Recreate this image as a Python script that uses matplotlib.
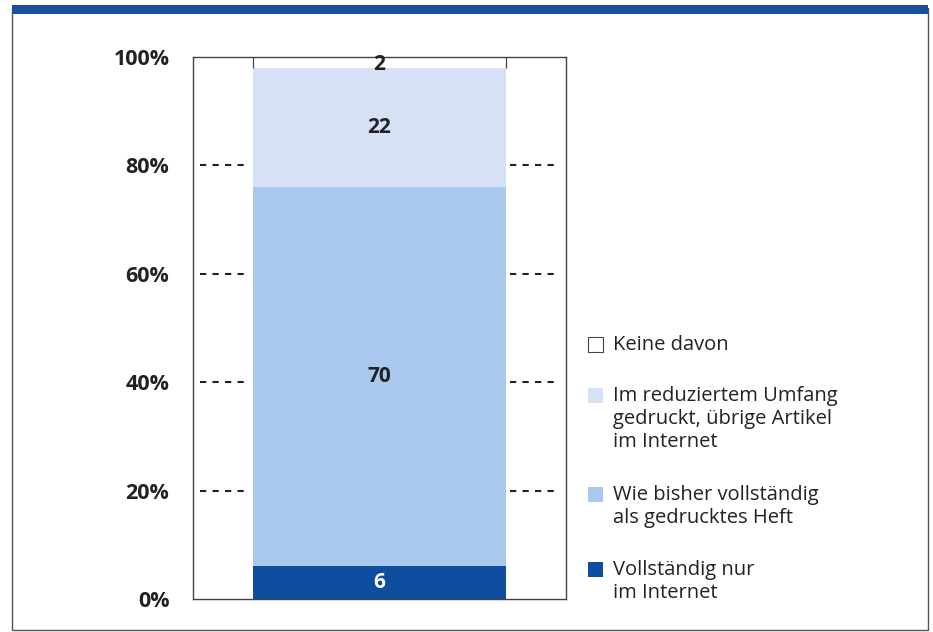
import matplotlib.pyplot as plt
from matplotlib.patches import Rectangle

plt.rcParams["font.family"] = ["Open Sans", "DejaVu Sans"]

# stacked from bottom to top
categories = [
    "Vollständig nur\nim Internet",
    "Wie bisher vollständig\nals gedrucktes Heft",
    "Im reduziertem Umfang\ngedruckt, übrige Artikel\nim Internet",
    "Keine davon",
]
values = [6, 70, 22, 2]
colors = ["#0f4d9f", "#aac8ee", "#d6e1f5", "#ffffff"]
label_colors = ["white", "#222222", "#222222", "#222222"]
yticks = [0, 20, 40, 60, 80, 100]
ytick_labels = ["0%", "20%", "40%", "60%", "80%", "100%"]
grid_levels = [20, 40, 60, 80]

W, H = 933, 632
fig = plt.figure(figsize=(W / 100, H / 100), dpi=100)

# outer frame and top band
fig.patches.append(Rectangle((12 / W, 2 / H), 916 / W, 622 / H, transform=fig.transFigure,
                             fill=False, edgecolor="#555555", linewidth=1.0))
fig.patches.append(Rectangle((12 / W, 1 - 14 / H), 916 / W, 9 / H, transform=fig.transFigure,
                             facecolor="#1d4f9f", edgecolor="none"))

ax = fig.add_axes([193 / W, 1 - 599 / H, 373 / W, 542 / H])
ax.set_xlim(0, 1)
ax.set_ylim(0, 100)

bottom = 0
bw = 0.68
for v, c, lc in zip(values, colors, label_colors):
    ax.bar(0.5, v, width=bw, bottom=bottom, color=c, edgecolor="none", zorder=2)
    if c == "#ffffff":
        ax.vlines([0.5 - bw / 2, 0.5 + bw / 2], bottom, bottom + v, color="#444444",
                  lw=0.9, zorder=3)
    if v < 5:
        ax.text(0.5, bottom + v + 0.6, str(v), ha="center", va="top", fontsize=15,
                fontweight="bold", color=lc, zorder=4)
    else:
        ax.text(0.5, bottom + v / 2, str(v), ha="center", va="center", fontsize=15,
                fontweight="bold", color=lc, zorder=4)
    bottom += v

for g in grid_levels:
    ax.plot([0.02, 0.14], [g, g], color="#222222", lw=1.5, ls=(0, (3, 3)), zorder=1)
    ax.plot([0.85, 0.97], [g, g], color="#222222", lw=1.5, ls=(0, (3, 3)), zorder=1)

ax.set_xticks([])
ax.set_yticks(yticks)
ax.set_yticklabels(ytick_labels, fontsize=15.5, fontweight="bold", color="#222222")
ax.tick_params(axis="y", length=0, pad=17)
for s in ax.spines.values():
    s.set_color("#444444")
    s.set_linewidth(1.0)

# legend, top to bottom
y = 345
for cat, c in zip(categories[::-1], colors[::-1]):
    fig.patches.append(Rectangle((588 / W, 1 - (y + 7) / H), 15 / W, 15 / H,
                                 transform=fig.transFigure, facecolor=c,
                                 edgecolor="#444444" if c == "#ffffff" else "none",
                                 linewidth=0.8))
    fig.text(613 / W, 1 - (y - 10) / H, cat, ha="left", va="top", fontsize=14.5,
             color="#222222", linespacing=1.2)
    y += cat.count("\n") * 24 + 24 + 27

fig.savefig("out.png", dpi=100)
